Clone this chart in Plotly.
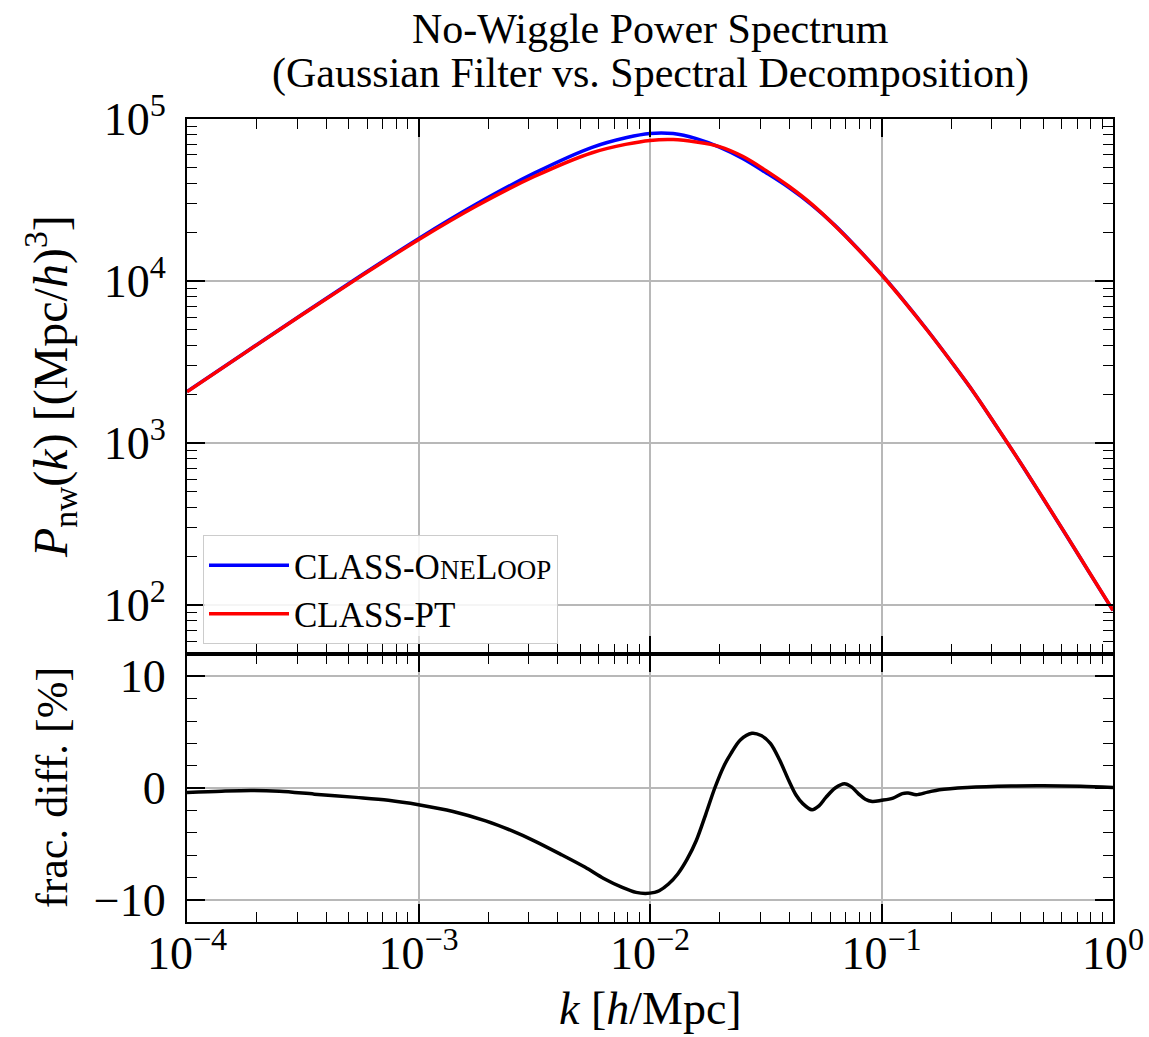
import plotly.graph_objects as go

# ---------------- data ----------------
k_top = [1.0e-4, 1.778e-4, 3.162e-4, 5.623e-4, 1.0e-3, 1.778e-3, 3.162e-3, 5.623e-3,
         7.943e-3, 0.01, 0.01259, 0.01585, 0.01995, 0.02512, 0.03162, 0.03981,
         0.05012, 0.0631, 0.07943, 0.1, 0.1259, 0.1585, 0.1995, 0.2512, 0.3162,
         0.3981, 0.5012, 0.631, 0.7943, 1.0]

P_oneloop = [2083, 3615, 6268, 10785, 18264, 29846, 46338, 66890,
             76944, 81446, 81263, 75667, 67130, 57150, 46770, 37760,
             29440, 21980, 15700, 10990, 7450, 4938, 3202, 2041, 1248,
             757.2, 451.0, 267.4, 157.2, 92.85]

P_pt = [2075, 3606, 6237, 10690, 17990, 29040, 44160, 61940,
        69980, 73790, 74640, 72110, 67610, 58880, 48190, 38460,
        29720, 21880, 15670, 10940, 7413, 4920, 3199, 2042, 1250,
        758.6, 451.9, 267.9, 157.4, 92.9]

k_diff = [1.0e-4, 1.41e-4, 1.91e-4, 2.51e-4, 3.55e-4, 5.37e-4, 7.41e-4, 1.0e-3,
          1.41e-3, 1.95e-3, 2.51e-3, 3.16e-3, 4.17e-3, 5.25e-3, 6.31e-3, 7.59e-3,
          8.71e-3, 9.55e-3, 0.01047, 0.01096, 0.01202, 0.01318, 0.01445, 0.01585,
          0.01738, 0.01905, 0.02089, 0.02239, 0.02455, 0.02754, 0.0302, 0.03311,
          0.03631, 0.03981, 0.04266, 0.04571, 0.05012, 0.0537, 0.05754, 0.0631,
          0.06918, 0.07413, 0.07943, 0.08511, 0.0912, 0.1, 0.1122, 0.123,
          0.1303, 0.1413, 0.1585, 0.1778, 0.2344, 0.3631, 0.5012, 0.7244, 1.0]

frac_diff = [-0.40, -0.28, -0.22, -0.30, -0.55, -0.84, -1.1, -1.5,
             -2.1, -2.94, -3.8, -4.73, -6.0, -7.1, -8.1, -8.9,
             -9.35, -9.45, -9.35, -9.2, -8.6, -7.7, -6.4, -4.7,
             -2.4, 0.0, 2.0, 3.1, 4.3, 4.9, 4.7, 4.0,
             2.5, 0.65, -0.6, -1.4, -1.95, -1.6, -0.84, 0.0,
             0.38, 0.1, -0.5, -1.0, -1.2, -1.1, -0.9, -0.5,
             -0.45, -0.6, -0.37, -0.15, 0.05, 0.18, 0.2, 0.15, 0.05]

x_tickvals = [1e-4, 1e-3, 1e-2, 1e-1, 1]
x_ticktext = ["10<sup>\u22124</sup>", "10<sup>\u22123</sup>", "10<sup>\u22122</sup>",
              "10<sup>\u22121</sup>", "10<sup>0</sup>"]
y_tickvals = [1e2, 1e3, 1e4, 1e5]
y_ticktext = ["10<sup>2</sup>", "10<sup>3</sup>", "10<sup>4</sup>", "10<sup>5</sup>"]
y2_tickvals = [-10, 0, 10]
y2_ticktext = ["\u221210", "0", "10"]

title_line1 = "No-Wiggle Power Spectrum"
title_line2 = "(Gaussian Filter vs. Spectral Decomposition)"
xlabel = "<i>k</i> [<i>h</i>/Mpc]"
ylabel_top = "<i>P</i><sub>nw</sub>(<i>k</i>) [(Mpc/<i>h</i>)<sup>3</sup>]"
ylabel_bot = "frac. diff. [%]"

# ---------------- figure ----------------
FONT = "Liberation Serif, Times New Roman, serif"
W, H = 1149, 1037
ML, MR, MT, MB = 187, 36, 119, 115
PW, PH = W - ML - MR, H - MT - MB


def px_x(xp):
    return (xp - ML) / PW


def px_y(yp):
    return (H - MB - yp) / PH


fig = go.Figure()

fig.add_trace(go.Scatter(
    x=k_top, y=P_oneloop, mode="lines",
    line=dict(color="#0000ff", width=3.5, shape="spline", smoothing=1.0),
    name="CLASS-O<span style='font-size:27px'>NE</span>L<span style='font-size:27px'>OOP</span>",
    xaxis="x", yaxis="y"))
fig.add_trace(go.Scatter(
    x=k_top, y=P_pt, mode="lines",
    line=dict(color="#ff0000", width=3.5, shape="spline", smoothing=1.0),
    name="CLASS-PT", xaxis="x", yaxis="y"))
fig.add_trace(go.Scatter(
    x=k_diff, y=frac_diff, mode="lines",
    line=dict(color="black", width=3.5, shape="spline", smoothing=0.9),
    showlegend=False, xaxis="x2", yaxis="y2"))

split = (H - MB - 654) / PH
grid_col = "#b8b8b8"
TICKFONT = dict(family=FONT, size=46, color="black")
common = dict(showline=True, linecolor="black", linewidth=2, mirror="allticks",
              ticks="inside", ticklen=18, tickwidth=1.5, tickcolor="black",
              showgrid=True, gridcolor=grid_col, gridwidth=1.5, zeroline=False,
              automargin=False, tickfont=TICKFONT)
log_minor = dict(ticks="inside", ticklen=10, tickwidth=1.3, tickcolor="black",
                 dtick="D1", showgrid=False)

annotations = [
    dict(text=title_line1, x=0.5, y=px_y(29), xref="paper", yref="paper",
         xanchor="center", yanchor="middle", showarrow=False,
         font=dict(family=FONT, size=42, color="black")),
    dict(text=title_line2, x=0.5, y=px_y(73), xref="paper", yref="paper",
         xanchor="center", yanchor="middle", showarrow=False,
         font=dict(family=FONT, size=42, color="black")),
    dict(text=xlabel, x=0.5, y=px_y(1008), xref="paper", yref="paper",
         xanchor="center", yanchor="middle", showarrow=False,
         font=dict(family=FONT, size=46, color="black")),
    dict(text=ylabel_top, x=px_x(50), y=px_y(387), xref="paper", yref="paper",
         xanchor="center", yanchor="middle", showarrow=False, textangle=-90,
         font=dict(family=FONT, size=48, color="black")),
    dict(text=ylabel_bot, x=px_x(52), y=px_y(788), xref="paper", yref="paper",
         xanchor="center", yanchor="middle", showarrow=False, textangle=-90,
         font=dict(family=FONT, size=44, color="black")),
]

fig.update_layout(
    width=W, height=H,
    margin=dict(l=ML, r=MR, t=MT, b=MB, autoexpand=False),
    paper_bgcolor="white", plot_bgcolor="white",
    font=dict(family=FONT, color="black"),
    xaxis=dict(domain=[0, 1], anchor="y", type="log", range=[-4, 0],
               tickvals=x_tickvals, showticklabels=False, minor=log_minor, **common),
    yaxis=dict(domain=[split, 1], anchor="x", type="log", range=[1.69897, 5],
               tickvals=y_tickvals, ticktext=y_ticktext, minor=log_minor,
               ticklabelstandoff=10, **common),
    xaxis2=dict(domain=[0, 1], anchor="y2", type="log", range=[-4, 0],
                tickvals=x_tickvals, ticktext=x_ticktext, minor=log_minor,
                ticklabelstandoff=-10, **common),
    yaxis2=dict(domain=[0, split], anchor="x2", range=[-12, 12],
                tickvals=y2_tickvals, ticktext=y2_ticktext,
                minor=dict(ticks="inside", ticklen=10, tickwidth=1.3, tickcolor="black",
                           dtick=2, showgrid=False),
                ticklabelstandoff=10, **common),
    legend=dict(x=px_x(203), y=px_y(535), xanchor="left", yanchor="top",
                bgcolor="rgba(255,255,255,0.85)", bordercolor="#cccccc", borderwidth=1,
                font=dict(family=FONT, size=35, color="black"),
                itemwidth=80, tracegroupgap=0),
    showlegend=True,
    annotations=annotations,
)

fig.write_html("out.html",
               config={"displayModeBar": False},
               post_script="document.body.style.margin='0';document.body.style.overflow='hidden';")
